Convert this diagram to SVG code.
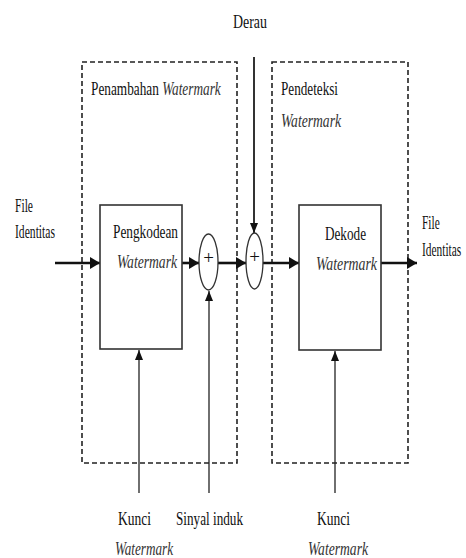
<svg xmlns="http://www.w3.org/2000/svg" width="466" height="558" viewBox="0 0 466 558">
<style>
text{font-family:"Liberation Serif","Times New Roman",serif;font-size:19px;fill:#111}
.it{font-style:italic;fill:#333}
.dash{fill:none;stroke:#222;stroke-width:1.6;stroke-dasharray:5,3}
.box{fill:#fff;stroke:#333;stroke-width:1.6}
.thick{stroke:#111;stroke-width:2.6;fill:none}
.thin{stroke:#222;stroke-width:1.3;fill:none}
.ell{fill:#fff;stroke:#333;stroke-width:1.3}
</style>
<defs>
<marker id="ah" markerUnits="userSpaceOnUse" markerWidth="10" markerHeight="12" refX="10" refY="6" orient="auto"><path d="M0,0 L10,6 L0,12 Z" fill="#111"/></marker>
<marker id="as" markerUnits="userSpaceOnUse" markerWidth="10" markerHeight="8" refX="10" refY="4" orient="auto"><path d="M0,0 L10,4 L0,8 Z" fill="#111"/></marker>
</defs>
<g id="penambahan">
<rect class="dash" x="82" y="62" width="155" height="401"/>
<text transform="translate(91,95) scale(0.7,1)">Penambahan <tspan class="it">Watermark</tspan></text>
</g>
<g id="pendeteksi">
<rect class="dash" x="272" y="62" width="136" height="401"/>
<text x="281" y="95" textLength="57" lengthAdjust="spacingAndGlyphs">Pendeteksi</text>
<text class="it" x="281" y="127" textLength="60" lengthAdjust="spacingAndGlyphs">Watermark</text>
</g>
<g id="connectors">
<line class="thick" x1="55" y1="263" x2="100" y2="263" marker-end="url(#ah)"/>
<line class="thick" x1="182" y1="263" x2="199" y2="263" marker-end="url(#ah)"/>
<line class="thick" x1="218" y1="263" x2="246" y2="263" marker-end="url(#ah)"/>
<line class="thick" x1="263" y1="263" x2="299" y2="263" marker-end="url(#ah)"/>
<line class="thick" x1="381" y1="263" x2="417" y2="263" marker-end="url(#ah)"/>
<line x1="254" y1="57" x2="254" y2="233" stroke="#333" stroke-width="2" marker-end="url(#as)"/>
<line class="thin" x1="139" y1="493" x2="139" y2="350" marker-end="url(#as)"/>
<line class="thin" x1="209" y1="493" x2="209" y2="291" marker-end="url(#as)"/>
<line class="thin" x1="335" y1="493" x2="335" y2="351" marker-end="url(#as)"/>
</g>
<g id="pengkodean">
<rect class="box" x="100" y="205" width="82" height="144"/>
<text x="113" y="238" textLength="65" lengthAdjust="spacingAndGlyphs">Pengkodean</text>
<text class="it" x="117" y="268" textLength="60" lengthAdjust="spacingAndGlyphs">Watermark</text>
</g>
<g id="plus1">
<ellipse class="ell" cx="208.5" cy="262" rx="9.5" ry="28"/>
<text x="208.5" y="264" text-anchor="middle" font-size="14">+</text>
</g>
<g id="plus2">
<ellipse class="ell" cx="254.5" cy="261" rx="8.5" ry="28"/>
<text x="254.5" y="263" text-anchor="middle" font-size="14">+</text>
</g>
<g id="dekode">
<rect class="box" x="299" y="205" width="82" height="145"/>
<text x="325" y="240" textLength="41" lengthAdjust="spacingAndGlyphs">Dekode</text>
<text class="it" x="316" y="270" textLength="61" lengthAdjust="spacingAndGlyphs">Watermark</text>
</g>
<g id="derau"><text x="233" y="28" textLength="34" lengthAdjust="spacingAndGlyphs">Derau</text></g>
<g id="file-in">
<text x="15" y="212" textLength="18" lengthAdjust="spacingAndGlyphs">File</text>
<text x="15" y="238" textLength="40" lengthAdjust="spacingAndGlyphs">Identitas</text>
</g>
<g id="file-out">
<text transform="translate(422,229) scale(0.6,1)">File</text>
<text transform="translate(422,256) scale(0.6,1)">Identitas</text>
</g>
<g id="kunci1">
<text x="118" y="525" textLength="33" lengthAdjust="spacingAndGlyphs">Kunci</text>
<text class="it" x="115" y="555" textLength="58" lengthAdjust="spacingAndGlyphs">Watermark</text>
</g>
<g id="sinyal"><text x="176" y="525" textLength="67" lengthAdjust="spacingAndGlyphs">Sinyal induk</text></g>
<g id="kunci2">
<text x="317" y="525" textLength="33" lengthAdjust="spacingAndGlyphs">Kunci</text>
<text class="it" x="308" y="555" textLength="60" lengthAdjust="spacingAndGlyphs">Watermark</text>
</g>
</svg>
